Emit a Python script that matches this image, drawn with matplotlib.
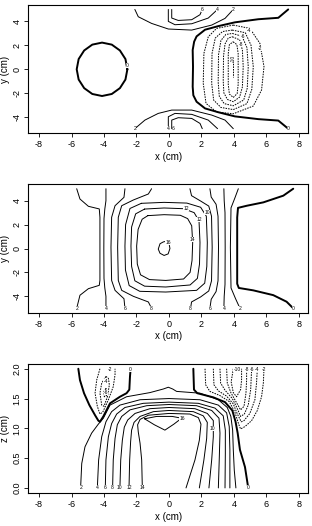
import matplotlib
matplotlib.use("Agg")
import matplotlib.pyplot as plt

plt.rcParams['font.family'] = ['Liberation Sans', 'DejaVu Sans']

# ---------------- axis data ----------------
x_ticks = [-8, -6, -4, -2, 0, 2, 4, 6, 8]
y_ticks_xy = [-4, -2, 0, 2, 4]
y_ticks_z = [0.0, 0.5, 1.0, 1.5, 2.0]
y_tick_labels_z = ["0.0", "0.5", "1.0", "1.5", "2.0"]

# ---------------- panel 1 (x-y plane) ----------------
p1_circle_x = [-2.56, -2.68, -3.02, -3.52, -4.12, -4.72, -5.22, -5.56, -5.68, -5.56, -5.22, -4.72, -4.12, -3.52, -3.02, -2.68, -2.56]
p1_circle_y = [-0.02, 0.84, 1.56, 2.05, 2.22, 2.05, 1.56, 0.84, -0.02, -0.88, -1.60, -2.09, -2.26, -2.09, -1.60, -0.88, -0.02]

p1_zero_x = [7.34, 6.73, 5.5, 4.06, 3.03, 2.22, 1.7, 1.55, 1.46, 1.48, 1.46, 1.5, 1.7, 2.22, 3.03, 4.06, 5.5, 6.73, 7.34]
p1_zero_y = [5.0, 4.3, 4.18, 3.92, 3.6, 3.3, 2.74, 2.3, 1.6, 0.2, -1.48, -2.2, -2.74, -3.3, -3.62, -3.97, -4.2, -4.32, -5.0]

p1_top_outer_x = [-2.1, -1.89, -1.07, -0.04, 1.4, 2.63, 3.45, 3.96]
p1_top_outer_y = [5.0, 4.39, 3.83, 3.36, 3.27, 3.69, 4.25, 5.0]
p1_top_mid_x = [-0.04, -0.04, 0.37, 1.4, 2.42, 2.99]
p1_top_mid_y = [5.0, 4.0, 3.72, 3.8, 4.28, 5.0]
p1_top_in_x = [0.17, 0.17, 0.57, 1.4, 1.91, 2.05]
p1_top_in_y = [5.0, 4.28, 4.08, 4.14, 4.56, 5.0]

p1_bot_outer_x = [-2.1, -1.48, -0.66, 0.17, 1.4, 2.63, 3.45, 3.96]
p1_bot_outer_y = [-5.0, -4.28, -3.72, -3.44, -3.44, -3.86, -4.28, -5.0]
p1_bot_mid_x = [-0.04, -0.04, 0.37, 1.4, 2.42, 2.99]
p1_bot_mid_y = [-5.0, -4.0, -3.72, -3.8, -4.28, -5.0]
p1_bot_in_x = [0.17, 0.17, 0.57, 1.4, 1.91, 2.05]
p1_bot_in_y = [-5.0, -4.28, -4.08, -4.14, -4.56, -5.0]

p1_neg2_x = [3.96, 4.98, 5.6, 5.85, 5.7, 5.19, 3.96, 2.93, 2.28, 2.11, 2.15, 2.42, 2.93, 3.96]
p1_neg2_y = [3.69, 3.41, 2.15, 0.2, -1.76, -3.1, -3.75, -3.6, -2.88, -1.2, 1.31, 2.71, 3.41, 3.69]
p1_neg4_x = [3.9, 4.7, 5.05, 5.19, 5.1, 4.8, 3.96, 3.2, 2.75, 2.63, 2.65, 2.85, 3.3, 3.9]
p1_neg4_y = [3.27, 3.05, 2.0, 0.2, -1.7, -2.9, -3.4, -3.22, -2.6, -1.2, 1.3, 2.6, 3.15, 3.27]
p1_neg6_x = [3.9, 4.5, 4.8, 4.88, 4.82, 4.6, 3.96, 3.4, 3.1, 3.03, 3.05, 3.2, 3.5, 3.9]
p1_neg6_y = [2.99, 2.75, 1.8, 0.2, -1.6, -2.6, -3.08, -2.9, -2.3, -1.1, 1.2, 2.4, 2.9, 2.99]
p1_neg8_x = [3.9, 4.35, 4.52, 4.57, 4.52, 4.35, 3.96, 3.6, 3.38, 3.34, 3.36, 3.45, 3.65, 3.9]
p1_neg8_y = [2.71, 2.45, 1.6, 0.2, -1.5, -2.35, -2.74, -2.55, -2.0, -1.0, 1.1, 2.1, 2.6, 2.71]
p1_neg9_x = [3.95, 4.18, 4.26, 4.26, 4.2, 3.96, 3.72, 3.65, 3.65, 3.72, 3.95]
p1_neg9_y = [2.29, 2.05, 1.3, -1.3, -2.05, -2.38, -2.1, -1.3, 1.3, 2.05, 2.29]
p1_neg10_x = [3.96, 3.96]
p1_neg10_y = [0.9, -0.64]

# ---------------- panel 2 (x-y plane) ----------------
p2_L2_x = [-5.68, -5.48, -4.96, -4.29, -4.25, -4.25, -4.29, -4.96, -5.48, -5.68]
p2_L2_y = [5.0, 4.14, 3.53, 3.31, 2.61, -2.66, -3.08, -3.36, -3.91, -5.0]
p2_L4_x = [-3.88, -3.88, -3.95, -4.0, -4.01, -4.0, -3.95, -3.88, -3.88]
p2_L4_y = [5.0, 4.0, 3.3, 2.5, 0.0, -2.5, -3.3, -4.0, -5.0]
p2_L6_x = [-2.71, -2.77, -3.32, -3.53, -3.57, -3.53, -3.32, -2.77, -2.71]
p2_L6_y = [5.0, 4.28, 3.58, 2.61, 0.1, -2.67, -3.5, -4.2, -5.0]
p2_L8_x = [-1.07, -1.27, -2.19, -2.91, -3.12, -3.16, -3.12, -2.91, -2.19, -1.27, -1.07]
p2_L8_y = [5.0, 4.56, 4.06, 3.58, 2.61, 0.1, -2.67, -3.5, -4.0, -4.47, -5.0]
p2_R8_x = [1.29, 1.39, 1.95, 2.45, 2.62, 2.66, 2.62, 2.45, 1.95, 1.39, 1.33]
p2_R8_y = [5.0, 4.42, 3.97, 3.55, 2.7, 0.1, -2.7, -3.55, -4.05, -4.47, -5.0]
p2_R6_x = [2.52, 2.6, 2.9, 3.02, 3.05, 3.02, 2.9, 2.6, 2.52]
p2_R6_y = [5.0, 4.3, 3.7, 2.7, 0.1, -2.7, -3.6, -4.25, -5.0]
p2_R4_x = [3.38, 3.4, 3.45, 3.46, 3.45, 3.4, 3.38]
p2_R4_y = [5.0, 4.0, 3.0, 0.1, -3.0, -4.0, -5.0]
p2_R2_x = [4.27, 4.05, 3.82, 3.78, 3.82, 4.1, 4.37]
p2_R2_y = [5.0, 4.2, 3.4, 0.1, -3.3, -4.2, -5.0]
p2_zero_x = [7.65, 7.04, 5.81, 4.8, 4.25, 4.2, 4.2, 4.3, 5.19, 6.42, 7.24, 7.65]
p2_zero_y = [5.0, 4.42, 3.86, 3.58, 3.4, 2.6, -2.95, -3.3, -3.5, -3.9, -4.45, -5.0]
p2_sq10_x = [-1.7, -0.3, 1.1, 1.95, 2.3, 2.36, 2.33, 2.2, 1.7, -0.2, -1.8, -2.45, -2.68, -2.71, -2.67, -2.4, -1.7]
p2_sq10_y = [3.78, 3.86, 3.8, 3.45, 2.7, 0.5, -1.5, -2.9, -3.5, -3.64, -3.58, -3.1, -1.8, 0.2, 2.0, 3.35, 3.78]
p2_sq12_x = [-1.5, -0.3, 0.9, 1.55, 1.85, 1.91, 1.88, 1.75, 1.3, -0.2, -1.5, -2.1, -2.3, -2.34, -2.3, -2.05, -1.5]
p2_sq12_y = [3.3, 3.39, 3.33, 3.0, 2.3, 0.5, -1.3, -2.5, -3.05, -3.22, -3.15, -2.7, -1.5, 0.2, 1.8, 2.9, 3.3]
p2_sq14_x = [-1.3, -0.3, 0.7, 1.15, 1.4, 1.46, 1.42, 1.3, 0.9, -0.2, -1.2, -1.75, -1.95, -1.99, -1.9, -1.65, -1.3]
p2_sq14_y = [2.75, 2.83, 2.78, 2.5, 1.9, 0.5, -1.0, -2.0, -2.55, -2.67, -2.6, -2.2, -1.3, 0.2, 1.6, 2.45, 2.75]
p2_blob16_x = [-0.2, 0.0, 0.06, -0.05, -0.3, -0.55, -0.66, -0.55, -0.35, -0.2]
p2_blob16_y = [0.6, 0.45, 0.0, -0.45, -0.58, -0.4, -0.05, 0.4, 0.55, 0.6]

# ---------------- panel 3 (x-z plane) ----------------
p3_a2_x = [-5.44, -5.37, -5.17, -4.76, -4.35, -4.04, -3.63, -2.61, -1.17, -0.35, -0.04, 0.23, 0.47, 1.91, 3.04, 3.59, 3.81, 3.92, 3.96, 4.02, 4.12]
p3_a2_y = [0.0, 0.41, 0.69, 0.92, 1.07, 1.17, 1.39, 1.53, 1.60, 1.66, 1.69, 1.66, 1.62, 1.59, 1.48, 1.35, 1.20, 0.97, 0.64, 0.30, 0.0]
p3_a4_x = [-4.41, -4.33, -4.14, -3.88, -3.53, -3.02, -1.78, 0.0, 1.91, 3.04, 3.55, 3.71, 3.75, 3.75]
p3_a4_y = [0.0, 0.47, 0.86, 1.11, 1.28, 1.39, 1.48, 1.50, 1.48, 1.39, 1.26, 1.03, 0.64, 0.0]
p3_a6_x = [-3.92, -3.88, -3.73, -3.53, -3.22, -2.71, -1.58, 0.0, 1.81, 2.83, 3.34, 3.47, 3.47, 3.45]
p3_a6_y = [0.0, 0.47, 0.86, 1.08, 1.24, 1.35, 1.42, 1.44, 1.42, 1.34, 1.21, 0.97, 0.58, 0.0]
p3_a8_x = [-3.47, -3.43, -3.32, -3.18, -2.91, -2.40, -1.37, 0.0, 1.70, 2.63, 3.08, 3.14, 3.10, 3.04]
p3_a8_y = [0.0, 0.47, 0.83, 1.06, 1.20, 1.31, 1.38, 1.40, 1.38, 1.30, 1.17, 0.92, 0.52, 0.0]
p3_a10_x = [-3.02, -2.97, -2.87, -2.75, -2.54, -2.09, -1.17, 0.0, 1.60, 2.36, 2.73, 2.73, 2.63, 2.46]
p3_a10_y = [0.0, 0.47, 0.80, 1.02, 1.14, 1.25, 1.33, 1.35, 1.33, 1.25, 1.13, 0.86, 0.47, 0.0]
p3_a12_x = [-2.46, -2.42, -2.36, -2.30, -2.15, -1.78, -0.96, 0.0, 1.50, 2.11, 2.36, 2.32, 2.15, 1.87]
p3_a12_y = [0.0, 0.47, 0.78, 0.97, 1.10, 1.20, 1.28, 1.30, 1.28, 1.21, 1.10, 0.83, 0.47, 0.0]
p3_a14_x = [-1.64, -1.68, -1.78, -1.89, -1.93, -1.78, -1.27, 0.0, 1.29, 1.81, 1.97, 1.87, 1.60, 1.05]
p3_a14_y = [0.0, 0.47, 0.75, 0.94, 1.06, 1.15, 1.22, 1.25, 1.24, 1.18, 1.07, 0.80, 0.47, 0.0]
p3_c16_x = [-1.5, -0.76, 0.2, 0.78, 0.3, -0.25, -0.9, -1.5]
p3_c16_y = [1.16, 1.20, 1.20, 1.17, 1.07, 0.97, 1.06, 1.16]
p3_zero_r_x = [1.50, 1.54, 1.74, 2.73, 3.45, 3.90, 4.10, 4.23, 4.37, 4.68, 4.88]
p3_zero_r_y = [2.0, 1.65, 1.59, 1.52, 1.44, 1.30, 1.11, 0.92, 0.64, 0.35, 0.0]
p3_zero_l_x = [-5.58, -5.48, -5.23, -4.90, -4.55, -4.35, -4.25, -4.04, -3.63, -3.02, -2.61, -2.44, -2.40, -2.36]
p3_zero_l_y = [2.0, 1.81, 1.59, 1.39, 1.22, 1.13, 1.11, 1.20, 1.42, 1.53, 1.59, 1.65, 1.87, 2.0]
p3_n2r_x = [2.22, 2.26, 2.52, 3.14, 3.71, 4.06, 4.29, 4.41, 4.68, 5.09, 5.44, 5.70, 5.81, 5.85]
p3_n2r_y = [2.0, 1.73, 1.62, 1.55, 1.45, 1.27, 1.07, 0.99, 1.03, 1.13, 1.30, 1.53, 1.76, 2.0]
p3_n4r_x = [2.73, 2.77, 3.04, 3.55, 3.96, 4.21, 4.45, 4.62, 4.98, 5.29, 5.39, 5.44]
p3_n4r_y = [2.0, 1.73, 1.63, 1.54, 1.41, 1.24, 1.11, 1.13, 1.25, 1.48, 1.76, 2.0]
p3_n6r_x = [3.14, 3.18, 3.45, 3.90, 4.16, 4.41, 4.64, 4.88, 5.03, 5.09]
p3_n6r_y = [2.0, 1.76, 1.64, 1.50, 1.36, 1.20, 1.24, 1.39, 1.65, 2.0]
p3_n8r_x = [3.55, 3.59, 3.81, 4.12, 4.41, 4.62, 4.74, 4.78, 4.78]
p3_n8r_y = [2.0, 1.76, 1.60, 1.45, 1.31, 1.37, 1.59, 1.81, 2.0]
p3_n10r_x = [3.96, 3.83, 3.96, 4.16, 4.41, 4.47, 4.47]
p3_n10r_y = [2.0, 1.78, 1.60, 1.53, 1.65, 1.81, 2.0]
p3_n2l_x = [-4.25, -4.45, -4.55, -4.41, -4.25, -4.08, -3.73, -3.43, -3.32, -3.32]
p3_n2l_y = [2.0, 1.81, 1.59, 1.37, 1.24, 1.27, 1.48, 1.70, 1.90, 2.0]
p3_n4l_x = [-3.88, -4.14, -4.25, -4.14, -4.0, -3.79, -3.67, -3.73, -3.88]
p3_n4l_y = [1.87, 1.76, 1.59, 1.39, 1.37, 1.53, 1.73, 1.84, 1.87]
p3_n6l_x = [-3.88, -4.0, -3.98, -3.84, -3.77, -3.88]
p3_n6l_y = [1.67, 1.62, 1.53, 1.55, 1.62, 1.67]

# ---------------- drawing ----------------
STYLE = {
    'pos': dict(color='black', lw=0.7, ls='-'),
    'zero': dict(color='black', lw=1.4, ls='-'),
    'neg': dict(color='black', lw=0.7, ls=(0, (1.6, 1.1))),
}

def draw(ax, xs, ys, kind):
    ax.plot(xs, ys, solid_capstyle='round', **STYLE[kind])

def lab(ax, x, y, s, rot=0):
    ax.text(x, y, s, fontsize=3.6, ha='center', va='center', rotation=rot,
            bbox=dict(fc='white', ec='none', pad=0.15), zorder=5)

fig = plt.figure(figsize=(3.12, 5.26), dpi=100)
axes_pos = [
    [0.0907, 0.747, 0.896, 0.2434],
    [0.0907, 0.4055, 0.896, 0.2441],
    [0.0907, 0.0622, 0.896, 0.2458],
]
axs = [fig.add_axes(p) for p in axes_pos]

for i, ax in enumerate(axs):
    ax.set_xlim(-8.66, 8.55)
    ax.set_xticks(x_ticks)
    ax.set_xticklabels([str(t) for t in x_ticks])
    ax.set_xlabel("x (cm)", fontsize=7, labelpad=2)
    for s in ax.spines.values():
        s.set_linewidth(0.8)
    ax.tick_params(axis='both', direction='out', length=3, width=0.6, labelsize=6.5, pad=2)
    if i < 2:
        ax.set_ylim(-5.37, 5.37)
        ax.set_yticks(y_ticks_xy)
        ax.set_yticklabels([str(t) for t in y_ticks_xy], rotation=90, va='center')
        ax.set_ylabel("y (cm)", fontsize=7, labelpad=2)
    else:
        ax.set_ylim(-0.09, 2.08)
        ax.set_yticks(y_ticks_z)
        ax.set_yticklabels(y_tick_labels_z, rotation=90, va='center')
        ax.set_ylabel("z (cm)", fontsize=7, labelpad=2)

# panel 1
a = axs[0]
draw(a, p1_circle_x, p1_circle_y, 'zero')
draw(a, p1_zero_x, p1_zero_y, 'zero')
for xs, ys in [(p1_top_outer_x, p1_top_outer_y), (p1_top_mid_x, p1_top_mid_y), (p1_top_in_x, p1_top_in_y),
               (p1_bot_outer_x, p1_bot_outer_y), (p1_bot_mid_x, p1_bot_mid_y), (p1_bot_in_x, p1_bot_in_y)]:
    draw(a, xs, ys, 'pos')
for xs, ys in [(p1_neg2_x, p1_neg2_y), (p1_neg4_x, p1_neg4_y), (p1_neg6_x, p1_neg6_y),
               (p1_neg8_x, p1_neg8_y), (p1_neg9_x, p1_neg9_y), (p1_neg10_x, p1_neg10_y)]:
    draw(a, xs, ys, 'neg')
lab(a, p1_circle_x[0], 0.3, "0")
lab(a, p1_zero_x[-1], p1_zero_y[-1], "0")
lab(a, p1_top_in_x[-1], p1_top_in_y[-1], "6")
lab(a, p1_top_mid_x[-1], p1_top_mid_y[-1], "4")
lab(a, p1_top_outer_x[-1], p1_top_outer_y[-1], "2")
lab(a, p1_bot_outer_x[0], p1_bot_outer_y[0], "2")
lab(a, p1_bot_mid_x[0], p1_bot_mid_y[0], "4")
lab(a, p1_bot_in_x[0] + 0.1, p1_bot_in_y[0], "6")
lab(a, 5.62, 1.75, "-2")
lab(a, 4.95, 3.25, "-4")
lab(a, 4.55, 2.72, "-6")
lab(a, 4.45, 2.1, "-8")
lab(a, p1_neg10_x[0], p1_neg10_y[0], "-10", rot=90)

# panel 2
a = axs[1]
for xs, ys in [(p2_L2_x, p2_L2_y), (p2_L4_x, p2_L4_y), (p2_L6_x, p2_L6_y), (p2_L8_x, p2_L8_y),
               (p2_R8_x, p2_R8_y), (p2_R6_x, p2_R6_y), (p2_R4_x, p2_R4_y), (p2_R2_x, p2_R2_y),
               (p2_sq10_x, p2_sq10_y), (p2_sq12_x, p2_sq12_y), (p2_sq14_x, p2_sq14_y),
               (p2_blob16_x, p2_blob16_y)]:
    draw(a, xs, ys, 'pos')
draw(a, p2_zero_x, p2_zero_y, 'zero')
for xs, ys, s in [(p2_L2_x, p2_L2_y, "2"), (p2_L4_x, p2_L4_y, "4"), (p2_L6_x, p2_L6_y, "6"),
                  (p2_L8_x, p2_L8_y, "8"), (p2_R8_x, p2_R8_y, "8"), (p2_R6_x, p2_R6_y, "6"),
                  (p2_R4_x, p2_R4_y, "4"), (p2_R2_x, p2_R2_y, "2"), (p2_zero_x, p2_zero_y, "0")]:
    lab(a, xs[-1], ys[-1], s)
lab(a, 2.36, 3.03, "10")
lab(a, 1.05, 3.33, "12")
lab(a, 1.87, 2.45, "12")
lab(a, 1.44, 0.73, "14")
lab(a, -0.05, 0.52, "16")

# panel 3
a = axs[2]
arches = [(p3_a2_x, p3_a2_y, "2"), (p3_a4_x, p3_a4_y, "4"), (p3_a6_x, p3_a6_y, "6"),
          (p3_a8_x, p3_a8_y, "8"), (p3_a10_x, p3_a10_y, "10"), (p3_a12_x, p3_a12_y, "12"),
          (p3_a14_x, p3_a14_y, "14")]
for xs, ys, s in arches:
    draw(a, xs, ys, 'pos')
    lab(a, xs[0], ys[0], s)
draw(a, p3_c16_x, p3_c16_y, 'pos')
lab(a, 0.8, 1.17, "16")
lab(a, 2.7, 1.0, "10")
draw(a, p3_zero_r_x, p3_zero_r_y, 'zero')
draw(a, p3_zero_l_x, p3_zero_l_y, 'zero')
lab(a, p3_zero_r_x[-1], p3_zero_r_y[-1], "0")
lab(a, p3_zero_l_x[-1], 1.99, "0")
for xs, ys in [(p3_n2r_x, p3_n2r_y), (p3_n4r_x, p3_n4r_y), (p3_n6r_x, p3_n6r_y),
               (p3_n8r_x, p3_n8r_y), (p3_n10r_x, p3_n10r_y),
               (p3_n2l_x, p3_n2l_y), (p3_n4l_x, p3_n4l_y), (p3_n6l_x, p3_n6l_y)]:
    draw(a, xs, ys, 'neg')
lab(a, 4.2, 1.99, "-10")
lab(a, p3_n8r_x[-1], 1.99, "-8")
lab(a, p3_n6r_x[-1], 1.99, "-6")
lab(a, p3_n4r_x[-1], 1.99, "-4")
lab(a, p3_n2r_x[-1], 1.99, "-2")
lab(a, -3.63, 1.99, "-2")
lab(a, -3.88, 1.79, "-4")
lab(a, -3.88, 1.6, "-6")

fig.savefig("out.png", dpi=100)
